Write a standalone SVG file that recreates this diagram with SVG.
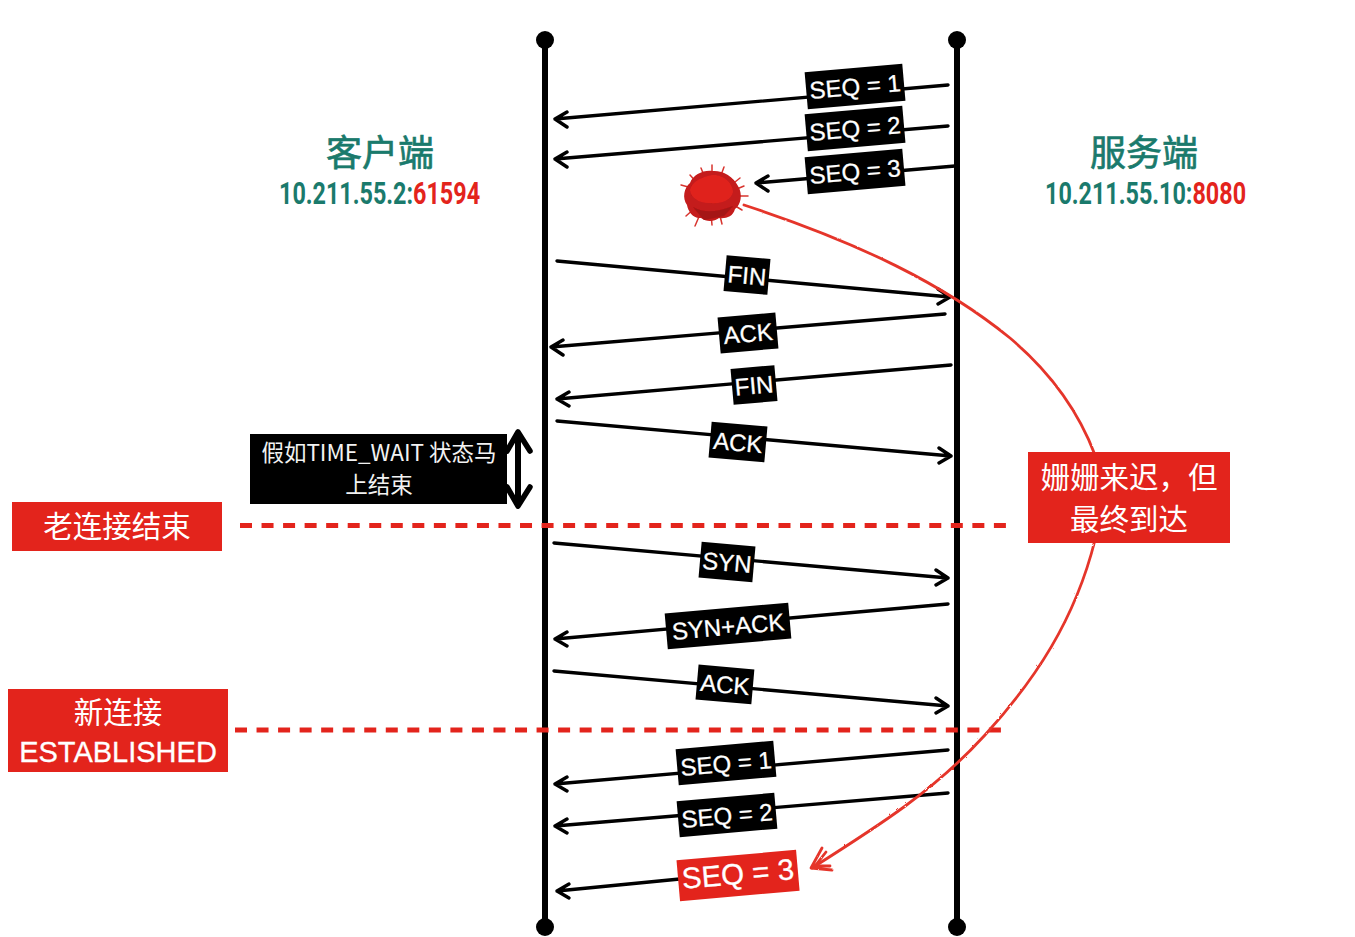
<svg xmlns="http://www.w3.org/2000/svg" width="1355" height="937" viewBox="0 0 1355 937">
<defs>
<filter id="rough" x="-5%" y="-5%" width="110%" height="110%"><feTurbulence type="fractalNoise" baseFrequency="0.25" numOctaves="2" seed="4"/><feDisplacementMap in="SourceGraphic" scale="2"/></filter>
<filter id="soft" x="-10%" y="-10%" width="120%" height="120%"><feGaussianBlur stdDeviation="0.7"/></filter>
</defs>
<style>
text{font-family:"Liberation Sans","Noto Sans CJK SC",sans-serif;text-anchor:middle}
.life{stroke:#000;stroke-width:6;fill:none}
.msg{stroke:#000;stroke-width:3.400;fill:none;stroke-linecap:round;stroke-linejoin:round}
.dash{stroke:#e3241c;stroke-width:5;stroke-dasharray:12 9.540;fill:none}
.curve{stroke:#e5352b;stroke-width:2.800;fill:none;stroke-linecap:round;stroke-linejoin:round}
.tag{fill:#000}
.tl{fill:#fff;font-size:24px;stroke:#fff;stroke-width:.3}
.rl{fill:#fff;font-size:29.500px;stroke:#fff;stroke-width:.3}
.cjk{font-family:"Noto Sans CJK SC","Liberation Sans",sans-serif}
.title{fill:#1a7a6c;font-size:36px;font-family:"Noto Sans CJK SC",sans-serif;stroke:#1a7a6c;stroke-width:.7}
.ip{font-size:32px;font-family:"Roboto","Liberation Sans",sans-serif;font-weight:700;text-anchor:start}
.teal{fill:#1a7a6c}
.red{fill:#e3241c}
</style>
<rect width="1355" height="937" fill="#fff"/>
<g id="connectors">
<path class="life" d="M545 40V927M957 40V927"/>
<circle cx="545" cy="40" r="9"/><circle cx="957" cy="40" r="9"/><circle cx="545" cy="927" r="9"/><circle cx="957" cy="927" r="9"/>
<path class="msg" d="M948 85L555 119M567 112L555 119L567 127"/>
<path class="msg" d="M948 126L555 159M567 152L555 159L567 167"/>
<path class="msg" d="M955 166L756 183M768 176L756 183L768 191"/>
<path class="msg" d="M557 261L950 297M938 289L950 297L938 304"/>
<path class="msg" d="M945 314L551 347M563 340L551 347L563 355"/>
<path class="msg" d="M951 365L557 399M569 392L557 399L569 406"/>
<path class="msg" d="M557 421L951 456M939 448L951 456L939 463"/>
<path class="msg" d="M554 543L948 578M936 570L948 578L936 585"/>
<path class="msg" d="M948 604L555 639M567 632L555 639L567 646"/>
<path class="msg" d="M554 671L948 706M936 698L948 706L936 713"/>
<path class="msg" d="M948 750L555 784M567 777L555 784L567 791"/>
<path class="msg" d="M948 793L555 826M567 819L555 826L567 833"/>
<path class="msg" d="M690 878L557 891M569 884L557 891L569 898"/>
<path class="dash" d="M240 525.500H1006"/>
<path class="dash" d="M235 730H1001"/>
<path d="M518 432V506" stroke="#000" stroke-width="6" fill="none"/>
<path d="M507 451L518 432L530 451M507 487L518 506L530 487" stroke="#000" stroke-width="5.500" fill="none" stroke-linecap="round" stroke-linejoin="round"/>
<g filter="url(#rough)">
<path class="curve" d="M744 205C860 243 945 285 1010 338C1055 376 1080 415 1095 455M1095 540C1075 620 1035 680 985 735C935 790 880 825 812 868"/>
<path class="curve" d="M822 848L811 868L832 870M826 852L815 866L830 866"/>
</g>
</g>
<g id="node-blob">
<g stroke="#d8342e" stroke-width="1.500" stroke-linecap="round" fill="none">
<path d="M712 165V176M701 168L705 178M724 167L720 178M681 185L692 188M740 178L730 186M744 186L732 191M748 196L736 196M742 210L732 204M695 226L701 212M712 225L711 214M722 224L719 212M686 216L695 208M690 175L698 184"/>
</g>
<g filter="url(#soft)">
<path d="M712 171C722 170 733 176 738 186C743 194 741 205 735 209C733 217 725 219 719 218C714 222 706 222 701 218C693 219 688 211 687 205C682 198 684 188 690 183C693 175 703 170 712 171Z" fill="#c41a1a"/>
<path d="M708 176C720 172 733 182 733 192C731 201 720 204 711 203C700 204 691 198 690 190C692 182 700 178 708 176Z" fill="#e0231d"/>
<path d="M693 207Q708 216 733 206L724 216L704 220Z" fill="#a51414"/>
</g>
</g>
<g id="node-client">
<text class="title" x="380" y="166">客户端</text>
<text class="ip" transform="translate(279 204) scale(.73 1)"><tspan class="teal">10.211.55.2:</tspan><tspan class="red">61594</tspan></text>
</g>
<g id="node-server">
<text class="title" x="1144" y="166">服务端</text>
<text class="ip" transform="translate(1045 204) scale(.73 1)"><tspan class="teal">10.211.55.10:</tspan><tspan class="red">8080</tspan></text>
</g>
<g id="label-seq1"><g transform="translate(855 86) rotate(-5)"><rect class="tag" x="-49" y="-18" width="98" height="37"/><text class="tl" y="9">SEQ = 1</text></g></g>
<g id="label-seq2"><g transform="translate(855 128) rotate(-5)"><rect class="tag" x="-49" y="-18" width="98" height="37"/><text class="tl" y="9">SEQ = 2</text></g></g>
<g id="label-seq3"><g transform="translate(855 171) rotate(-5)"><rect class="tag" x="-49" y="-18" width="98" height="37"/><text class="tl" y="9">SEQ = 3</text></g></g>
<g id="label-fin1"><g transform="translate(747 275) rotate(5)"><rect class="tag" x="-22" y="-18" width="44" height="36"/><text class="tl" y="9">FIN</text></g></g>
<g id="label-ack1"><g transform="translate(748 333) rotate(-5)"><rect class="tag" x="-29" y="-18" width="58" height="36"/><text class="tl" y="9">ACK</text></g></g>
<g id="label-fin2"><g transform="translate(754 385) rotate(-5)"><rect class="tag" x="-22" y="-18" width="44" height="36"/><text class="tl" y="9">FIN</text></g></g>
<g id="label-ack2"><g transform="translate(738 442) rotate(5)"><rect class="tag" x="-28" y="-18" width="56" height="36"/><text class="tl" y="9">ACK</text></g></g>
<g id="label-syn"><g transform="translate(727 562) rotate(5)"><rect class="tag" x="-27" y="-18" width="54" height="36"/><text class="tl" y="9">SYN</text></g></g>
<g id="label-synack"><g transform="translate(728 626) rotate(-5)"><rect class="tag" x="-62" y="-18" width="124" height="36"/><text class="tl" y="9">SYN+ACK</text></g></g>
<g id="label-ack3"><g transform="translate(725 684) rotate(5)"><rect class="tag" x="-28" y="-17" width="56" height="35"/><text class="tl" y="9">ACK</text></g></g>
<g id="label-seq1b"><g transform="translate(726 763) rotate(-5)"><rect class="tag" x="-49" y="-18" width="98" height="36"/><text class="tl" y="9">SEQ = 1</text></g></g>
<g id="label-seq2b"><g transform="translate(727 815) rotate(-5)"><rect class="tag" x="-49" y="-18" width="98" height="36"/><text class="tl" y="9">SEQ = 2</text></g></g>
<g id="label-seq3b"><g transform="translate(738 875) rotate(-5)"><rect x="-60" y="-20" width="120" height="41" fill="#e3241c"/><text class="rl" y="9">SEQ = 3</text></g></g>
<g id="node-timewait">
<rect x="250" y="434" width="257" height="70" fill="#000"/>
<text class="cjk" x="379" y="461" fill="#f2f2f2" font-size="22.500">假如TIME_WAIT 状态马</text>
<text class="cjk" x="379" y="493" fill="#f2f2f2" font-size="22.500">上结束</text>
</g>
<g id="node-old-end">
<rect x="12" y="502" width="210" height="49" fill="#e3241c"/>
<text class="cjk" x="117" y="537" fill="#fff" font-size="29.500">老连接结束</text>
</g>
<g id="node-new">
<rect x="8" y="689" width="220" height="83" fill="#e3241c"/>
<text class="cjk" x="118" y="723" fill="#fff" font-size="29.500">新连接</text>
<text x="118" y="762" fill="#fff" font-size="29" stroke="#fff" stroke-width=".3">ESTABLISHED</text>
</g>
<g id="node-late">
<rect x="1028" y="452" width="202" height="91" fill="#e3241c"/>
<text class="cjk" x="1129" y="488" fill="#fff" font-size="29.500">姗姗来迟，但</text>
<text class="cjk" x="1129" y="530" fill="#fff" font-size="29.500">最终到达</text>
</g>
</svg>
